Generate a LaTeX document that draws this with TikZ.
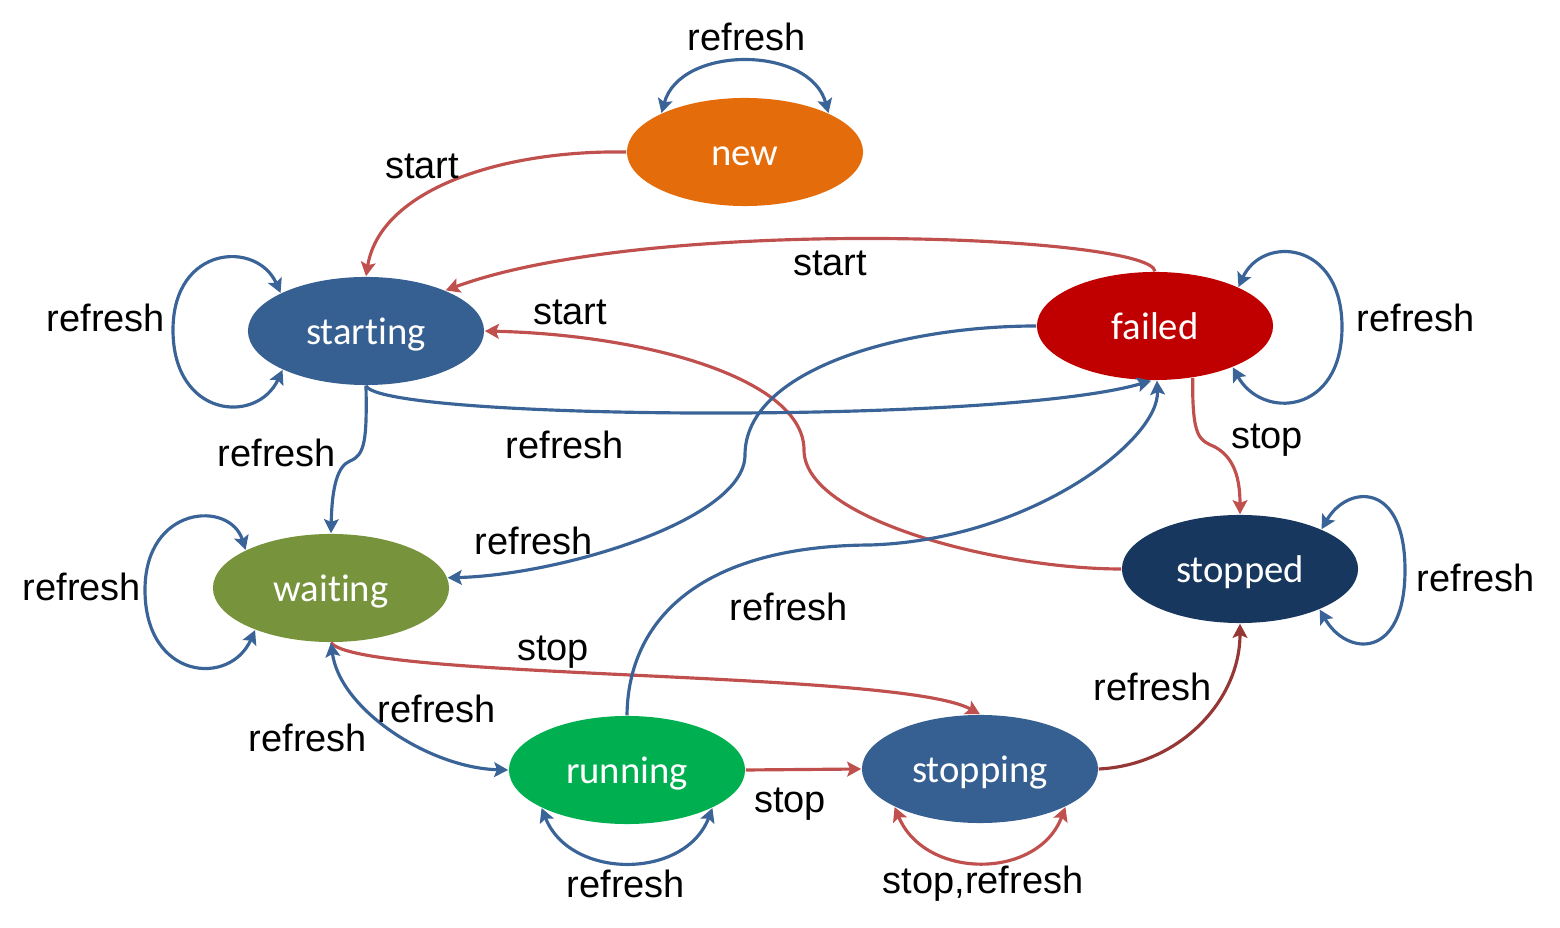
\documentclass[tikz,border=0pt]{standalone}
\usepackage{fontspec}
\setmainfont{Liberation Sans}
\newfontfamily\calibrifont[Ligatures={NoCommon}]{Carlito}
\usetikzlibrary{shapes.geometric,arrows.meta}
\definecolor{eblue}{HTML}{3A6497}
\definecolor{ered}{HTML}{C0504D}
\definecolor{edred}{HTML}{953735}
\definecolor{cnew}{HTML}{E46C0A}
\definecolor{cstart}{HTML}{376092}
\definecolor{cfail}{HTML}{C00000}
\definecolor{cwait}{HTML}{77933C}
\definecolor{crun}{HTML}{00B050}
\definecolor{cstopped}{HTML}{17375E}
\tikzset{
  st/.style={ellipse, minimum width=2.36cm, minimum height=1.08cm, inner sep=0pt,
    text=white, text height=8.3pt, text depth=0.9pt,
    font=\calibrifont\fontsize{11}{13}\selectfont},
  lbl/.style={font=\fontsize{10.8}{13}\selectfont, inner sep=0pt, text=black},
  tip/.tip={Stealth[length=4pt,width=4.2pt,inset=0.8pt]},
  bl/.style={draw=eblue, line width=0.9pt, -tip},
  rd/.style={draw=ered, line width=0.9pt, -tip},
  bloop/.style={draw=eblue, line width=0.9pt, tip-tip},
  rloop/.style={draw=ered, line width=0.9pt, tip-tip},
}
\begin{document}
\begin{tikzpicture}[x=0.01cm,y=-0.01cm]
\useasboundingbox (0,0) rectangle (1560,928);

% states
\node[st, fill=cnew]     (new)      at (745,152) {new};
\node[st, fill=cstart]   (starting) at (366,331) {starting};
\node[st, fill=cfail]    (failed)   at (1155,326) {failed};
\node[st, fill=cwait]    (waiting)  at (331,588) {waiting};
\node[st, fill=cstopped] (stopped)  at (1240,569) {stopped};
\node[st, fill=crun]     (running)  at (627,770) {running};
\node[st, fill=cstart]   (stopping) at (980,769) {stopping};

% self loops
\draw[bloop] (new.155) .. controls (680,45) and (810,45) .. (new.25);
\draw[bloop] (starting.156) .. controls (257,240) and (173,245) .. (173,330)
   .. controls (173,418) and (257,425) .. (starting.205);
\draw[bloop] (failed.25) .. controls (1262,235) and (1342,240) .. (1342,327)
   .. controls (1342,415) and (1262,420) .. (failed.332);
\draw[bloop] (stopped.26) .. controls (1347,485) and (1405,480) .. (1405,570)
   .. controls (1405,660) and (1347,657) .. (stopped.333);
\draw[bloop] (waiting.156) .. controls (230,500) and (145,505) .. (145,590)
   .. controls (145,680) and (230,687) .. (waiting.209);
\draw[bloop] (running.204) .. controls (570,880) and (685,880) .. (running.336);
\draw[rloop] (stopping.204) .. controls (925,880) and (1038,880) .. (stopping.336);

% transitions
\draw[rd] (new.west) .. controls (500,150) and (380,190) .. (starting.north);
\draw[rd] (failed.north) .. controls (1150,235) and (650,215) .. (starting.27);
\draw[rd] (stopped.west) .. controls (1000,569) and (804,520) .. (804,450)
   .. controls (804,380) and (650,335) .. (starting.east);
\draw[bl] (starting.south) .. controls (380,420) and (1000,425) .. (failed.266);
\draw[bl] (starting.south) .. controls (367,440) and (365,455) .. (350,461)
   .. controls (338,466) and (332,485) .. (waiting.north);
\draw[bl] (failed.west) .. controls (900,326) and (745,370) .. (745,455)
   .. controls (745,520) and (560,575) .. (waiting.5);
\draw[rd] (failed.306) .. controls (1192,440) and (1200,440) .. (1215,447)
   .. controls (1235,458) and (1240,480) .. (stopped.north);
\draw[rd] (waiting.south) .. controls (360,680) and (900,670) .. (stopping.north);
\draw[bloop] (waiting.south) .. controls (340,710) and (430,768) .. (running.west);
\draw[rd] (running.east) -- (stopping.west);
\draw[bl] (running.north) .. controls (628,620) and (700,546) .. (870,545)
   .. controls (1030,540) and (1160,440) .. (failed.272);
\draw[draw=edred, line width=0.9pt, -tip] (stopping.east) .. controls (1180,765) and (1240,700) .. (stopped.south);

% labels
\node[lbl] (l1)  at (747,37)  {refresh};
\node[lbl] (l2)  at (422,166) {start};
\node[lbl] (l3)  at (830,263) {start};
\node[lbl] (l4)  at (106,318) {refresh};
\node[lbl] (l5)  at (570,312) {start};
\node[lbl] (l6)  at (1416,318) {refresh};
\node[lbl] (l7)  at (277,453) {refresh};
\node[lbl] (l8)  at (565,445) {refresh};
\node[lbl] (l9)  at (1267,440) {stop};
\node[lbl] (l10) at (534,541) {refresh};
\node[lbl] (l11) at (82,587)  {refresh};
\node[lbl] (l12) at (1476,578) {refresh};
\node[lbl] (l13) at (789,607) {refresh};
\node[lbl] (l14) at (553,652) {stop};
\node[lbl] (l15) at (1153,687) {refresh};
\node[lbl] (l16) at (437,709) {refresh};
\node[lbl] (l17) at (308,738) {refresh};
\node[lbl] (l18) at (790,804) {stop};
\node[lbl] (l19) at (626,884) {refresh};
\node[lbl] (l20) at (983,884) {stop,refresh};
\end{tikzpicture}
\end{document}
